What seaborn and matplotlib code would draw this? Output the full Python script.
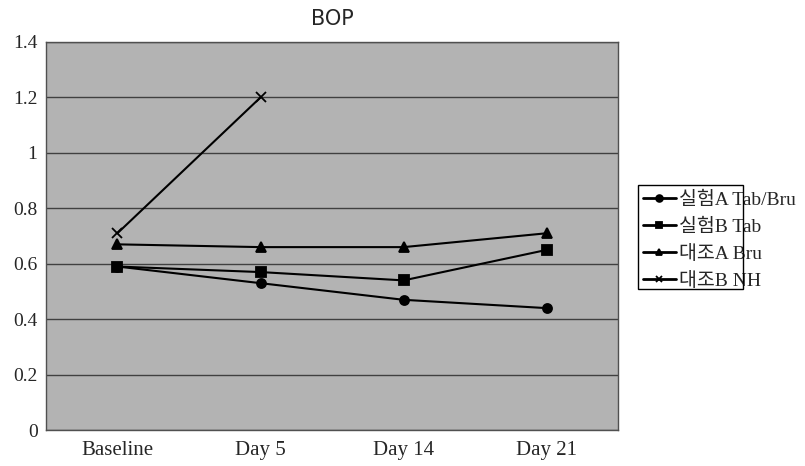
import numpy as np
import pandas as pd
import seaborn as sns
import matplotlib.pyplot as plt
from matplotlib.patches import Rectangle

sns.set_style("white")
plt.rcParams['font.family'] = ['Liberation Serif', 'Noto Sans CJK KR']

days = ['Baseline', 'Day 5', 'Day 14', 'Day 21']
series_names = ['실험A Tab/Bru', '실험B Tab', '대조A Bru', '대조B NH']
expA = [0.59, 0.53, 0.47, 0.44]
expB = [0.59, 0.57, 0.54, 0.65]
ctlA = [0.67, 0.66, 0.66, 0.71]
ctlB = [0.71, 1.2, np.nan, np.nan]
markers = ['o', 's', '^', 'x']

fig = plt.figure(figsize=(8.05, 4.66), dpi=100)
ax = fig.add_axes([0.057, 0.077, 0.711, 0.833])
ax.set_facecolor('#b3b3b3')

# one call per series, filled and line-art markers can't share a style mapping
for name, vals, m in zip(series_names, [expA, expB, ctlA, ctlB], markers):
    d = pd.DataFrame({'day': range(4), 'value': vals}).dropna()
    sns.lineplot(data=d, x='day', y='value', color='black', marker=m,
                 markersize=6.5, linewidth=1.5, markeredgecolor='black',
                 markeredgewidth=1.3, label=name, ax=ax)

ax.set_xlim(-0.5, 3.5)
ax.set_ylim(0, 1.4)
ax.set_yticks(np.arange(0, 1.41, 0.2))
ax.set_yticklabels(['0', '0.2', '0.4', '0.6', '0.8', '1', '1.2', '1.4'], fontsize=14)
ax.set_xticks(range(4))
ax.set_xticklabels(days, fontsize=15)
ax.set_xticks([0.5, 1.5, 2.5], minor=True)
ax.tick_params(axis='x', which='major', length=0, pad=8)
ax.tick_params(axis='x', which='minor', length=4, direction='out', color='#404040', width=1)
ax.tick_params(axis='y', length=0, pad=6)
ax.yaxis.grid(True, color='#404040', linewidth=1)
ax.set_axisbelow(True)
for s in ax.spines.values():
    s.set_color('#505050')
    s.set_linewidth(1)
ax.set_xlabel('')
ax.set_ylabel('')
ax.set_title('BOP', fontsize=15, family=['DejaVu Sans'], pad=12)

leg = ax.legend(loc='center left', bbox_to_anchor=(1.044, 0.488), frameon=False,
                fontsize=14, handlelength=1.65, handletextpad=0.2,
                labelspacing=0.48, borderpad=0, borderaxespad=0, markerscale=0.75)
for ln in leg.get_lines():
    ln.set_linewidth(2)

# the original frame is narrower than the legend text
fig.add_artist(Rectangle((0.7925, 0.380), 0.130, 0.223, transform=fig.transFigure,
                         fill=False, edgecolor='black', linewidth=1))

fig.savefig('out.png', dpi=100)
